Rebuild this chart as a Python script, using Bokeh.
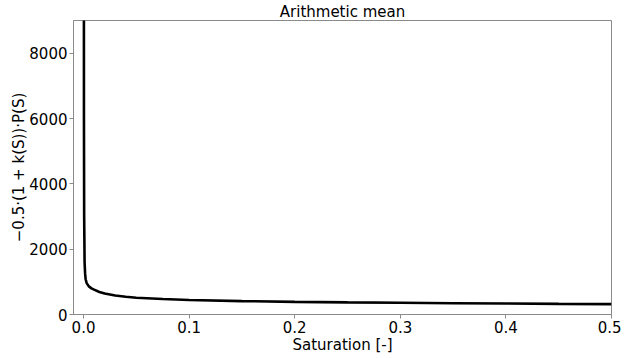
from bokeh.plotting import figure
from bokeh.models import Range1d, FixedTicker, PrintfTickFormatter
from bokeh.embed import file_html
from bokeh.resources import INLINE

# Curve
saturation = [0.0002, 0.0004, 0.0006, 0.001, 0.0015, 0.002, 0.003, 0.005, 0.0075, 0.01,
              0.015, 0.02, 0.03, 0.04, 0.05, 0.075, 0.1, 0.15, 0.2, 0.25, 0.3, 0.35,
              0.4, 0.45, 0.5]
value = [20000, 6000, 3000, 1600, 1250, 1080, 960, 860, 800, 760,
         690, 640, 580, 545, 515, 475, 445, 410, 385, 370, 358, 346,
         336, 326, 318]

x_ticks = [0.0, 0.1, 0.2, 0.3, 0.4, 0.5]
y_ticks = [0, 2000, 4000, 6000, 8000]

FONT = "DejaVu Sans"
GRAY = "#8a8a8a"

p = figure(frame_width=538, frame_height=294, output_backend="svg", toolbar_location=None,
           title="Arithmetic mean",
           x_range=Range1d(-0.0095, 0.5), y_range=Range1d(0, 9000))
p.min_border_left = 73
p.min_border_right = 10
p.min_border_top = 20
p.min_border_bottom = 0

p.title.align = "center"
p.title.text_font = FONT
p.title.text_font_size = "15px"
p.title.text_font_style = "normal"
p.title.text_color = "black"
p.title.standoff = 0

p.line(saturation, value, line_color="black", line_width=2.6)

p.grid.visible = False
p.outline_line_color = GRAY
p.outline_line_width = 1

for ax in (p.xaxis[0], p.yaxis[0]):
    ax.axis_line_color = GRAY
    ax.major_tick_line_color = GRAY
    ax.minor_tick_line_color = None
    ax.major_tick_in = 0
    ax.major_tick_out = 4
    ax.major_label_text_font = FONT
    ax.major_label_text_font_size = "15px"
    ax.major_label_text_color = "black"
    ax.axis_label_text_font = FONT
    ax.axis_label_text_font_size = "15px"
    ax.axis_label_text_font_style = "normal"
    ax.axis_label_text_color = "black"
    ax.major_label_standoff = 2

p.xaxis[0].axis_label_standoff = 0
p.yaxis[0].axis_label_standoff = -2

p.xaxis.ticker = FixedTicker(ticks=x_ticks)
p.xaxis.formatter = PrintfTickFormatter(format="%.1f")
p.yaxis.ticker = FixedTicker(ticks=y_ticks)
p.yaxis.formatter = PrintfTickFormatter(format="%d")
p.xaxis.axis_label = "Saturation [-]"
p.yaxis.axis_label = "\u22120.5\u00b7(1 + k(S))\u00b7P(S)"
p.background_fill_color = "white"
p.border_fill_color = "white"

open("out.html", "w").write(file_html(p, INLINE))
